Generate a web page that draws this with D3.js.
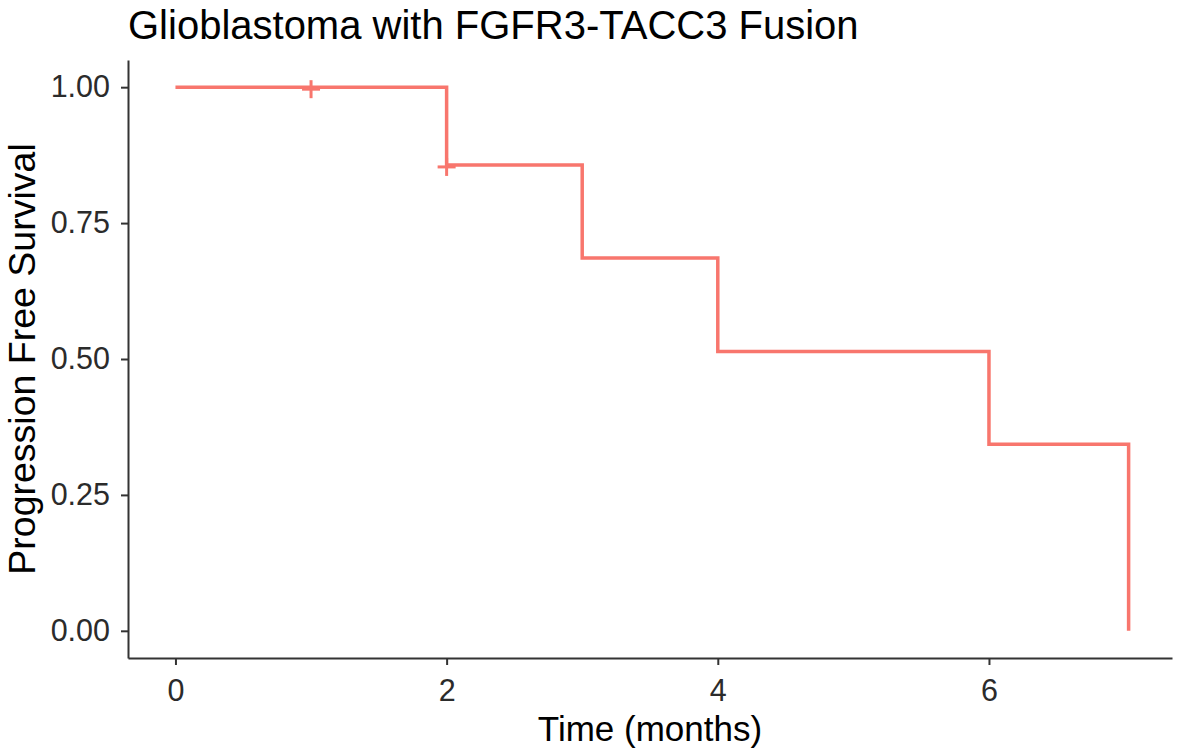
<!DOCTYPE html>
<html>
<head>
<meta charset="utf-8">
<script src="https://cdn.jsdelivr.net/npm/d3@7"></script>
<style>
  body { margin: 0; background: #fff; }
  text { font-family: "Liberation Sans", Arial, sans-serif; }
</style>
</head>
<body>
<div id="container"></div>
<script>
/* DATA */
const eventTimes = [0, 2, 3, 4, 6, 7.03];
const survival = [1, 0.857, 0.686, 0.514, 0.343, 0];
const censorTimes = [1, 2];
const censorSurvival = [1, 0.857];
const xTicks = [0, 2, 4, 6];
const yTicks = [0, 0.25, 0.5, 0.75, 1];

/* CONSTANTS AND GLOBALS */
const W = 1181, H = 755;
const margin = { top: 60, right: 9, bottom: 97, left: 128 },
  width = W - margin.left - margin.right,
  height = H - margin.top - margin.bottom;
const lineColor = "#F8766D";

// SCALES - ggplot style 5% expansion
const x = d3.scaleLinear().domain([-0.35, 7.35]).range([0, width]);
const y = d3.scaleLinear().domain([-0.05, 1.05]).range([height, 0]);

const svg = d3.select("#container").append("svg")
  .attr("width", W)
  .attr("height", H)
  .append("g")
  .attr("transform", "translate(" + margin.left + "," + margin.top + ")");

/* X AXIS */
const xAxis = svg.append("g")
  .attr("transform", "translate(0," + height + ")")
  .call(d3.axisBottom(x).tickValues(xTicks).tickSize(7).tickSizeOuter(0).tickPadding(14));

/* Y AXIS */
const yAxis = svg.append("g")
  .call(d3.axisLeft(y).tickValues(yTicks).tickFormat(d3.format(".2f"))
    .tickSize(7).tickSizeOuter(0).tickPadding(11));

[xAxis, yAxis].forEach(a => {
  a.select(".domain").attr("stroke", "#333").attr("stroke-width", 2);
  a.selectAll(".tick line").attr("stroke", "#333").attr("stroke-width", 2);
  a.selectAll(".tick text")
    .attr("fill", "#2b2b2b")
    .style("font-size", "30.5px")
    .style("font-family", "'Liberation Sans', Arial, sans-serif");
});

/* KM STEP LINE */
const pts = eventTimes.map((t, i) => [t, survival[i]]);
const stepLine = d3.line()
  .x(d => x(d[0]))
  .y(d => y(d[1]))
  .curve(d3.curveStepAfter);

svg.append("path")
  .datum(pts)
  .attr("fill", "none")
  .attr("stroke", lineColor)
  .attr("stroke-width", 3.5)
  .attr("d", stepLine);

/* CENSOR MARKS */
const censors = censorTimes.map((t, i) => [t, censorSurvival[i]]);
svg.selectAll(".censor")
  .data(censors)
  .enter().append("g")
  .attr("class", "censor")
  .attr("transform", d => "translate(" + x(d[0]) + "," + (y(d[1]) + 2) + ")")
  .each(function() {
    const g = d3.select(this);
    g.append("line").attr("x1", -9).attr("x2", 9).attr("y1", 0).attr("y2", 0);
    g.append("line").attr("x1", 0).attr("x2", 0).attr("y1", -9).attr("y2", 9);
  })
  .selectAll("line")
  .attr("stroke", lineColor)
  .attr("stroke-width", 3);

/* TITLE */
svg.append("text")
  .attr("x", 0)
  .attr("y", 39 - margin.top)
  .attr("fill", "#000")
  .style("font-size", "40px")
  .text("Glioblastoma with FGFR3-TACC3 Fusion");

/* Y-AXIS LABEL */
svg.append("text")
  .attr("transform", "translate(" + (35 - margin.left) + "," + (height / 2) + ") rotate(-90)")
  .style("text-anchor", "middle")
  .style("font-size", "37.5px")
  .attr("fill", "#000")
  .text("Progression Free Survival");

/* X-AXIS LABEL */
svg.append("text")
  .attr("x", width / 2)
  .attr("y", 741 - margin.top)
  .style("text-anchor", "middle")
  .style("font-size", "35px")
  .attr("fill", "#000")
  .text("Time (months)");
</script>
</body>
</html>
